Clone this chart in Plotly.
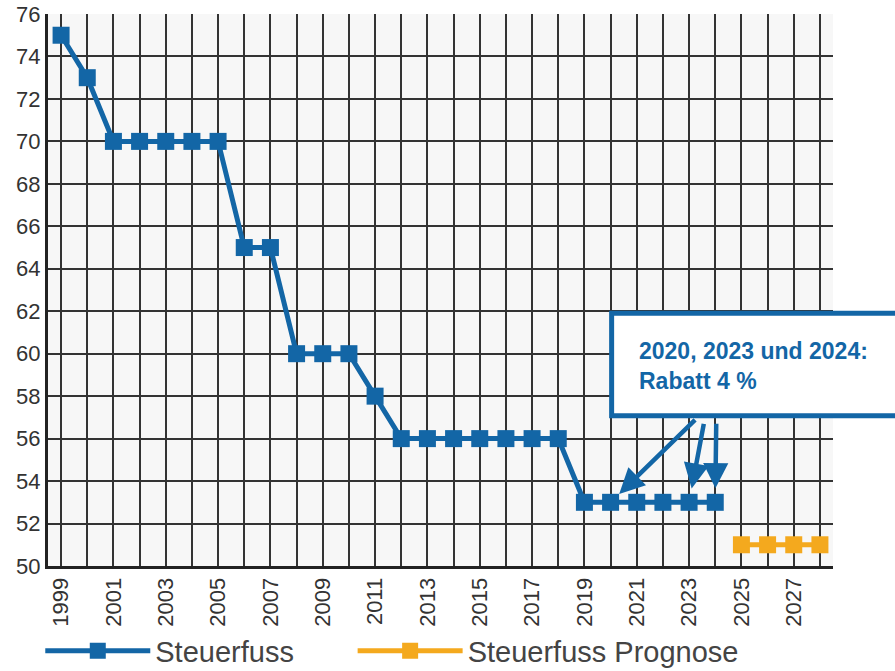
import plotly.graph_objects as go

# Steuerfuss (tax rate, % of the simple state tax) per year
years = list(range(1999, 2025))
steuerfuss = [75, 73, 70, 70, 70, 70, 70, 65, 65, 60, 60, 60, 58,
              56, 56, 56, 56, 56, 56, 56, 53, 53, 53, 53, 53, 53]

# Forecast
prognose_years = [2025, 2026, 2027, 2028]
prognose = [51, 51, 51, 51]

# Axis ticks
x_tickvals = list(range(1999, 2029))
x_ticktext = [str(y) if y % 2 == 1 else "" for y in x_tickvals]
y_tickvals = list(range(50, 78, 2))

# Rebate years marked by arrows
rabatt_years = [2020, 2023, 2024]

BLUE = "#1366a6"
ORANGE = "#f4a91e"
GRID = "#333333"
FONT = "Liberation Sans, Arial, sans-serif"

fig = go.Figure()
fig.add_trace(go.Scatter(
    x=years, y=steuerfuss, name="Steuerfuss", mode="lines+markers",
    line=dict(color=BLUE, width=5),
    marker=dict(symbol="square", size=17, color=BLUE),
    legend="legend",
))
fig.add_trace(go.Scatter(
    x=prognose_years, y=prognose, name="Steuerfuss Prognose",
    mode="lines+markers",
    line=dict(color=ORANGE, width=5),
    marker=dict(symbol="square", size=17, color=ORANGE),
    legend="legend2",
))

# Callout box (extends beyond the right edge)
fig.add_shape(type="rect", xref="paper", yref="paper",
              x0=0.718, x1=1.09, y0=0.272, y1=0.458,
              line=dict(color=BLUE, width=5), fillcolor="white", layer="above")
fig.add_annotation(xref="paper", yref="paper", x=0.75, y=0.362,
                   xanchor="left", yanchor="middle", align="left",
                   text="<b>2020, 2023 und 2024:<br>Rabatt 4 %</b>",
                   showarrow=False,
                   font=dict(family=FONT, size=23, color=BLUE))

# Arrows from the box down to the rebate years
tails = {2020: (86, -84), 2023: (15, -80), 2024: (1, -80)}
standoffs = {2020: 12, 2023: 14, 2024: 14}
for yr in rabatt_years:
    val = steuerfuss[years.index(yr)]
    ax, ay = tails[yr]
    fig.add_annotation(x=yr, y=val, xref="x", yref="y", text="",
                       showarrow=True, ax=ax, ay=ay,
                       arrowhead=2, arrowsize=1.12, arrowwidth=4.5,
                       arrowcolor=BLUE, standoff=standoffs[yr])

legend_style = dict(orientation="h", xanchor="left",
                    xref="container", yref="container", y=0.03,
                    yanchor="middle", font=dict(size=29, color="#444444"),
                    itemwidth=105, bgcolor="rgba(0,0,0,0)")

fig.update_layout(
    width=895, height=671,
    margin=dict(l=48, r=62, t=14, b=105, autoexpand=False),
    paper_bgcolor="white", plot_bgcolor="#f7f7f7",
    font=dict(family=FONT, color="#333333"),
    showlegend=True,
    legend=dict(x=0.045, **legend_style),
    legend2=dict(x=0.394, **legend_style),
)
fig.update_xaxes(
    range=[1998.5, 2028.5], tickvals=x_tickvals, ticktext=x_ticktext,
    tickangle=-90, tickfont=dict(size=22, color="#333333"),
    showgrid=True, gridcolor=GRID, gridwidth=2,
    showline=True, linecolor="#222222", linewidth=3,
    zeroline=False, ticks="", automargin=False,
)
fig.update_yaxes(
    range=[50, 76], tickvals=y_tickvals,
    tickfont=dict(size=22, color="#333333"),
    showgrid=True, gridcolor=GRID, gridwidth=2,
    showline=True, linecolor="#222222", linewidth=3,
    zeroline=False, ticks="", automargin=False,
)

fig.write_html("out.html")
